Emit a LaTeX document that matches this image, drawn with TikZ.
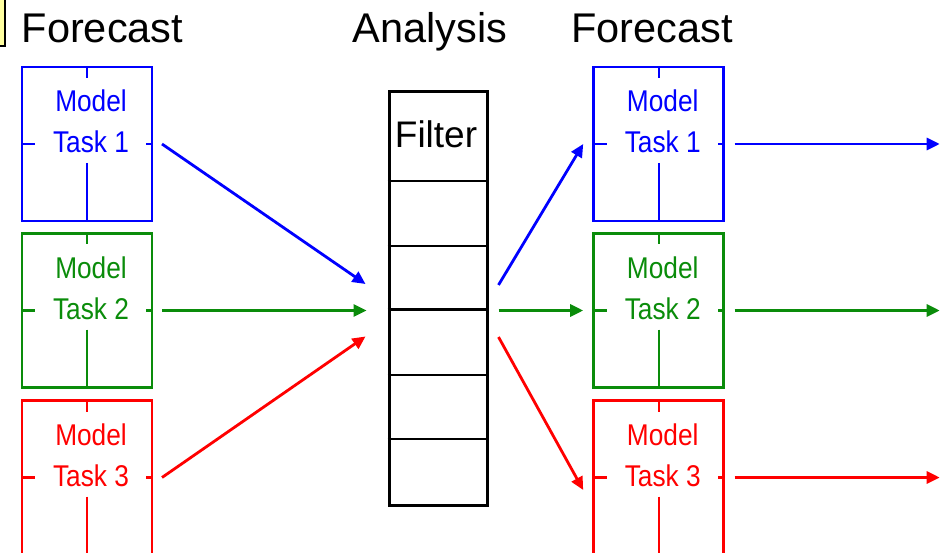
\documentclass[tikz,border=0pt]{standalone}
\usepackage{fontspec}
\setmainfont{Liberation Sans}
\usetikzlibrary{arrows.meta,calc}
\definecolor{mblue}{RGB}{0,0,255}
\definecolor{mgreen}{RGB}{10,140,10}
\definecolor{mred}{RGB}{255,0,0}
\definecolor{myellow}{RGB}{255,255,160}
\newcommand{\mtx}[1]{\scalebox{0.875}[1]{#1}}
\newcommand{\modelbox}[4]{%
  \node[box,draw=#2] (#1) at (#3) {};
  \node[mlabel,text=#2] (#1m) at ($(#1.center)+(4,-32)$) {\mtx{Model}};
  \node[mlabel,text=#2] (#1t) at ($(#1.center)+(4,9)$) {\mtx{Task #4}};
  \draw[tick,#2] (#1.north) -- ++(0,11);
  \draw[tick,#2] ($(#1.center)+(0,19)$) -- (#1.south);
  \draw[tick,#2] (#1.west) -- ++(13,0);
  \draw[tick,#2] (#1.east) -- ++(-6,0);
}
\begin{document}
\begin{tikzpicture}[x=1pt,y=-1pt,
  box/.style={line width=2.9pt,minimum width=130pt,minimum height=154pt,inner sep=0pt,outer sep=0pt},
  tick/.style={line width=2.3pt},
  mlabel/.style={font=\fontsize{30}{36}\selectfont,anchor=base,inner sep=0pt},
  title/.style={font=\fontsize{41.5}{48}\selectfont,anchor=base west,inner sep=0pt},
  arr/.style={line width=2.8pt,-{Triangle[length=13pt,width=12pt]}},
]
\useasboundingbox (0,0) rectangle (944,553);

% yellow corner box
\node[draw,fill=myellow,line width=1.2pt,minimum width=15pt,minimum height=56pt,inner sep=0pt] (yb) at (-2.5,18) {};

% titles
\node[title] (tf1) at (21.5,43) {Forecast};
\node[title] (tan) at (352.5,43) {Analysis};
\node[title] (tf2) at (571,43) {Forecast};

% model boxes
\modelbox{L1}{mblue}{87,144}{1}
\modelbox{L2}{mgreen}{87,310.5}{2}
\modelbox{L3}{mred}{87,477.5}{3}
\modelbox{R1}{mblue}{658.7,144}{1}
\modelbox{R2}{mgreen}{658.7,310.5}{2}
\modelbox{R3}{mred}{658.7,477.5}{3}

% filter column
\node[draw,line width=3pt,minimum width=98pt,minimum height=413pt,inner sep=0pt] (filt) at (438,298.5) {};
\foreach \yy [count=\i] in {181,246,309.5,375,439} {
  \coordinate (d\i) at (0,\yy);
  \draw[line width=2.3pt] (filt.west |- d\i) -- (filt.east |- d\i);
}
\node[font=\fontsize{37}{44}\selectfont,anchor=base,inner sep=0pt] (ftxt) at ($(filt.north)+(-2,57)$) {Filter};

% arrow end points
\coordinate (i1) at ($(filt.west)+(-22,-14.5)$);
\coordinate (i2) at ($(filt.west)+(-21,12)$);
\coordinate (i3) at ($(filt.west)+(-22,38)$);
\coordinate (o1) at ($(filt.east)+(10,-13.5)$);
\coordinate (o2) at ($(filt.east)+(10,12)$);
\coordinate (o3) at ($(filt.east)+(10,38.5)$);

% into filter
\draw[arr,mblue]  ($(L1.east)+(10,0)$) -- (i1);
\draw[arr,mgreen] ($(L2.east)+(10,0)$) -- (i2);
\draw[arr,mred]   ($(L3.east)+(10,0)$) -- (i3);

% out of filter
\draw[arr,mblue]  (o1) -- ($(R1.west)+(-10.5,0)$);
\draw[arr,mgreen] (o2) -- ($(R2.west)+(-10.5,0)$);
\draw[arr,mred]   (o3) -- ($(R3.west)+(-10.5,12.5)$);

% outgoing forecasts
\draw[arr,mblue]  ($(R1.east)+(11,0)$) -- ($(R1.east)+(216,0)$);
\draw[arr,mgreen] ($(R2.east)+(11,0)$) -- ($(R2.east)+(216,0)$);
\draw[arr,mred]   ($(R3.east)+(11,0)$) -- ($(R3.east)+(216,0)$);
\end{tikzpicture}
\end{document}
